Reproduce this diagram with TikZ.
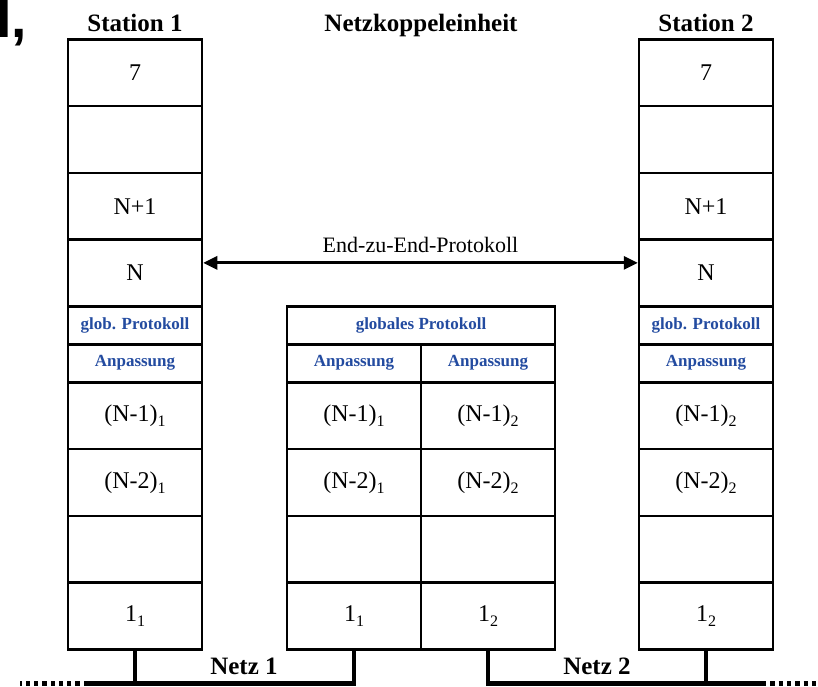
\documentclass[tikz,border=0pt]{standalone}
\usepackage{fontspec}
\setmainfont{Liberation Serif}
\setsansfont{Liberation Sans}
\usetikzlibrary{arrows.meta}
\definecolor{protblue}{RGB}{35,75,160}

% lowered small index, e.g. (N-1) with index 1
\newcommand{\lidx}[1]{\raisebox{-5pt}{\fontsize{16}{16}\selectfont #1}}

\tikzset{
  layer/.style={draw, line width=2.5pt, minimum width=134pt, minimum height=66.75pt,
    inner sep=0pt, anchor=north, font=\fontsize{24}{28}\selectfont},
  thinlayer/.style={layer, minimum height=38pt,
    font=\fontsize{17}{20}\selectfont\bfseries, text=protblue},
  title/.style={anchor=base, inner sep=0pt, font=\fontsize{25}{30}\selectfont\bfseries},
  bus/.style={line width=4.5pt, line join=miter},
  busdots/.style={line width=4.5pt, dash pattern=on 4.3pt off 4pt},
  e2e/.style={line width=3pt, {Triangle[length=14pt,width=13pt]}-{Triangle[length=14pt,width=13pt]}}
}

% a full end-station protocol stack: #1 name prefix, #2 x centre, #3 network index
\newcommand{\stationstack}[3]{%
  \node[layer] (#1-7) at (#2,38) {7};
  \node[layer] (#1-6) at (#2,104.75) {};
  \node[layer] (#1-n1) at (#2,171.5) {N+1};
  \node[layer] (#1-n) at (#2,238.25) {N};
  \node[thinlayer] (#1-g) at (#2,305) {glob. Protokoll};
  \node[thinlayer] (#1-a) at (#2,343) {Anpassung};
  \node[layer] (#1-m1) at (#2,381) {(N-1)\lidx{#3}};
  \node[layer] (#1-m2) at (#2,447.75) {(N-2)\lidx{#3}};
  \node[layer] (#1-x) at (#2,514.5) {};
  \node[layer] (#1-1) at (#2,581.25) {1\lidx{#3}};
}

\begin{document}
\begin{tikzpicture}[x=1pt, y=-1pt]
  \useasboundingbox (0,0) rectangle (818,686);

  % stray heading fragment in the top-left corner
  \node[anchor=base west, inner sep=0pt, font=\fontsize{55}{60}\selectfont\sffamily\bfseries]
    (frag) at (-4,37) {I,};

  % column headings
  \node[title] (t1) at (135,31) {Station 1};
  \node[title] (tk) at (421,31) {Netzkoppeleinheit};
  \node[title] (t2) at (706,31) {Station 2};

  % the two end stations
  \stationstack{s1}{135}{1}
  \stationstack{s2}{706}{2}

  % the network coupling unit
  \node[thinlayer, minimum width=268pt] (k-g) at (421,305) {globales Protokoll};
  \node[thinlayer] (k-a1) at (354,343) {Anpassung};
  \node[thinlayer] (k-a2) at (488,343) {Anpassung};
  \node[layer] (k-m1a) at (354,381) {(N-1)\lidx{1}};
  \node[layer] (k-m1b) at (488,381) {(N-1)\lidx{2}};
  \node[layer] (k-m2a) at (354,447.75) {(N-2)\lidx{1}};
  \node[layer] (k-m2b) at (488,447.75) {(N-2)\lidx{2}};
  \node[layer] (k-xa) at (354,514.5) {};
  \node[layer] (k-xb) at (488,514.5) {};
  \node[layer] (k-1a) at (354,581.25) {1\lidx{1}};
  \node[layer] (k-1b) at (488,581.25) {1\lidx{2}};

  % end-to-end protocol between the N layers
  \draw[e2e] ([yshift=10pt]s1-n.east) -- ([yshift=10pt]s2-n.west)
    node[midway, above=9pt, inner sep=0pt, font=\fontsize{22}{26}\selectfont] (e2elabel) {End-zu-End-Protokoll};

  % network 1
  \coordinate (n1w) at (88,683.5);
  \coordinate (n1d) at (20,683.5);
  \draw[bus] (s1-1.south) -- (s1-1.south |- n1w);
  \draw[bus] (k-1a.south) -- (k-1a.south |- n1w) -- (n1w);
  \draw[busdots] (n1w) -- (n1d);
  \node[title] (netz1) at (244,674) {Netz 1};

  % network 2
  \coordinate (n2e) at (762,683.5);
  \coordinate (n2d) at (818,683.5);
  \draw[bus] (s2-1.south) -- (s2-1.south |- n2e);
  \draw[bus] (k-1b.south) -- (k-1b.south |- n2e) -- (n2e);
  \draw[busdots] (n2e) -- (n2d);
  \node[title] (netz2) at (597,674) {Netz 2};
\end{tikzpicture}
\end{document}
